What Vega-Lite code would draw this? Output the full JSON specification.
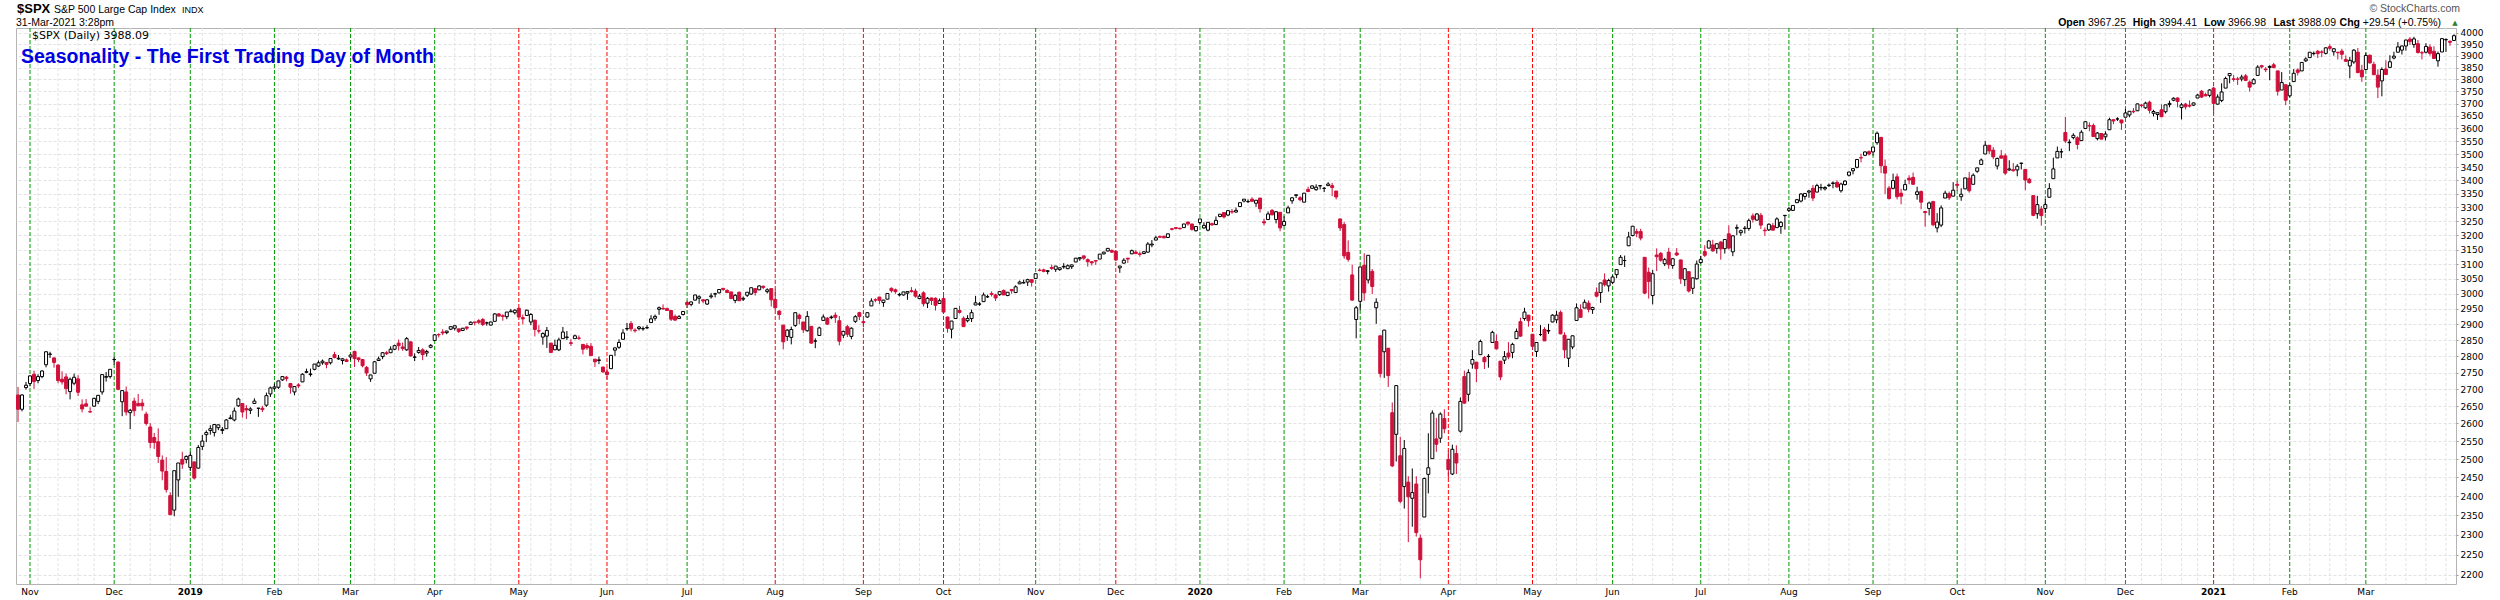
{
"$schema":"https://vega.github.io/schema/vega-lite/v6.json",
"width":2440,"height":556,
"autosize":{"type":"none"},
"padding":{"left":16,"top":28,"right":44,"bottom":16},
"background":"white",
"config":{"view":{"stroke":"#b4b4b4","strokeWidth":1},"font":"Liberation Sans"},
"datasets":{
"px":[
{"d":"2018-10-29","o":2683,"h":2707,"l":2604,"c":2641},
{"d":"2018-10-30","o":2641,"h":2685,"l":2635,"c":2683},
{"d":"2018-10-31","o":2705,"h":2722,"l":2699,"c":2712},
{"d":"2018-11-01","o":2717,"h":2742,"l":2709,"c":2740},
{"d":"2018-11-02","o":2745,"h":2756,"l":2701,"c":2723},
{"d":"2018-11-05","o":2726,"h":2745,"l":2718,"c":2738},
{"d":"2018-11-06","o":2738,"h":2757,"l":2733,"c":2755},
{"d":"2018-11-07","o":2774,"h":2815,"l":2766,"c":2814},
{"d":"2018-11-08","o":2806,"h":2814,"l":2795,"c":2807},
{"d":"2018-11-09","o":2795,"h":2796,"l":2765,"c":2781},
{"d":"2018-11-12","o":2773,"h":2775,"l":2718,"c":2726},
{"d":"2018-11-13","o":2730,"h":2754,"l":2714,"c":2722},
{"d":"2018-11-14","o":2737,"h":2747,"l":2685,"c":2702},
{"d":"2018-11-15","o":2693,"h":2735,"l":2670,"c":2730},
{"d":"2018-11-16","o":2718,"h":2747,"l":2712,"c":2736},
{"d":"2018-11-19","o":2731,"h":2742,"l":2680,"c":2691},
{"d":"2018-11-20","o":2654,"h":2670,"l":2632,"c":2642},
{"d":"2018-11-21","o":2657,"h":2671,"l":2649,"c":2650},
{"d":"2018-11-23","o":2634,"h":2647,"l":2631,"c":2633},
{"d":"2018-11-26","o":2650,"h":2675,"l":2649,"c":2673},
{"d":"2018-11-27","o":2664,"h":2683,"l":2656,"c":2682},
{"d":"2018-11-28","o":2692,"h":2744,"l":2684,"c":2744},
{"d":"2018-11-29","o":2736,"h":2752,"l":2723,"c":2738},
{"d":"2018-11-30","o":2738,"h":2760,"l":2732,"c":2760},
{"d":"2018-12-03","o":2790,"h":2800,"l":2774,"c":2790},
{"d":"2018-12-04","o":2782,"h":2785,"l":2697,"c":2700},
{"d":"2018-12-06","o":2663,"h":2697,"l":2621,"c":2696},
{"d":"2018-12-07","o":2692,"h":2708,"l":2623,"c":2633},
{"d":"2018-12-10","o":2631,"h":2642,"l":2584,"c":2638},
{"d":"2018-12-11","o":2665,"h":2675,"l":2621,"c":2637},
{"d":"2018-12-12","o":2658,"h":2686,"l":2650,"c":2651},
{"d":"2018-12-13","o":2659,"h":2671,"l":2637,"c":2651},
{"d":"2018-12-14","o":2627,"h":2634,"l":2594,"c":2600},
{"d":"2018-12-17","o":2590,"h":2601,"l":2530,"c":2546},
{"d":"2018-12-18","o":2560,"h":2573,"l":2528,"c":2546},
{"d":"2018-12-19","o":2548,"h":2586,"l":2489,"c":2507},
{"d":"2018-12-20","o":2497,"h":2510,"l":2442,"c":2467},
{"d":"2018-12-21","o":2466,"h":2505,"l":2409,"c":2417},
{"d":"2018-12-24","o":2401,"h":2410,"l":2351,"c":2351},
{"d":"2018-12-26","o":2363,"h":2468,"l":2347,"c":2468},
{"d":"2018-12-27","o":2443,"h":2489,"l":2398,"c":2489},
{"d":"2018-12-28","o":2499,"h":2520,"l":2473,"c":2486},
{"d":"2018-12-31","o":2499,"h":2510,"l":2488,"c":2507},
{"d":"2019-01-02","o":2477,"h":2520,"l":2467,"c":2510},
{"d":"2019-01-03","o":2492,"h":2493,"l":2444,"c":2448},
{"d":"2019-01-04","o":2475,"h":2539,"l":2474,"c":2532},
{"d":"2019-01-07","o":2535,"h":2567,"l":2525,"c":2550},
{"d":"2019-01-08","o":2568,"h":2580,"l":2547,"c":2574},
{"d":"2019-01-09","o":2580,"h":2595,"l":2568,"c":2585},
{"d":"2019-01-10","o":2574,"h":2597,"l":2563,"c":2597},
{"d":"2019-01-11","o":2588,"h":2597,"l":2581,"c":2596},
{"d":"2019-01-14","o":2580,"h":2590,"l":2570,"c":2583},
{"d":"2019-01-15","o":2585,"h":2613,"l":2585,"c":2610},
{"d":"2019-01-16","o":2614,"h":2625,"l":2612,"c":2616},
{"d":"2019-01-17","o":2610,"h":2646,"l":2606,"c":2636},
{"d":"2019-01-18","o":2651,"h":2675,"l":2648,"c":2671},
{"d":"2019-01-22","o":2658,"h":2659,"l":2617,"c":2633},
{"d":"2019-01-23","o":2643,"h":2653,"l":2613,"c":2639},
{"d":"2019-01-24","o":2638,"h":2647,"l":2627,"c":2642},
{"d":"2019-01-25","o":2658,"h":2673,"l":2658,"c":2665},
{"d":"2019-01-28","o":2644,"h":2645,"l":2619,"c":2644},
{"d":"2019-01-29","o":2644,"h":2651,"l":2633,"c":2640},
{"d":"2019-01-30","o":2653,"h":2690,"l":2648,"c":2681},
{"d":"2019-01-31","o":2686,"h":2708,"l":2677,"c":2704},
{"d":"2019-02-01","o":2703,"h":2717,"l":2697,"c":2707},
{"d":"2019-02-04","o":2706,"h":2725,"l":2701,"c":2725},
{"d":"2019-02-05","o":2728,"h":2739,"l":2725,"c":2738},
{"d":"2019-02-06","o":2736,"h":2740,"l":2724,"c":2732},
{"d":"2019-02-07","o":2717,"h":2719,"l":2687,"c":2706},
{"d":"2019-02-08","o":2692,"h":2709,"l":2682,"c":2708},
{"d":"2019-02-11","o":2713,"h":2718,"l":2704,"c":2710},
{"d":"2019-02-12","o":2722,"h":2748,"l":2722,"c":2745},
{"d":"2019-02-13","o":2751,"h":2762,"l":2748,"c":2753},
{"d":"2019-02-14","o":2744,"h":2762,"l":2738,"c":2746},
{"d":"2019-02-15","o":2760,"h":2776,"l":2757,"c":2776},
{"d":"2019-02-19","o":2770,"h":2787,"l":2767,"c":2780},
{"d":"2019-02-20","o":2780,"h":2790,"l":2774,"c":2785},
{"d":"2019-02-21","o":2781,"h":2782,"l":2763,"c":2775},
{"d":"2019-02-22","o":2780,"h":2794,"l":2775,"c":2793},
{"d":"2019-02-25","o":2805,"h":2814,"l":2794,"c":2796},
{"d":"2019-02-26","o":2792,"h":2804,"l":2789,"c":2794},
{"d":"2019-02-27","o":2787,"h":2795,"l":2775,"c":2792},
{"d":"2019-02-28","o":2789,"h":2793,"l":2782,"c":2784},
{"d":"2019-03-01","o":2798,"h":2808,"l":2788,"c":2804},
{"d":"2019-03-04","o":2815,"h":2817,"l":2767,"c":2793},
{"d":"2019-03-05","o":2795,"h":2796,"l":2782,"c":2790},
{"d":"2019-03-06","o":2790,"h":2791,"l":2766,"c":2771},
{"d":"2019-03-07","o":2766,"h":2770,"l":2740,"c":2749},
{"d":"2019-03-08","o":2731,"h":2743,"l":2722,"c":2743},
{"d":"2019-03-11","o":2748,"h":2785,"l":2748,"c":2783},
{"d":"2019-03-12","o":2787,"h":2799,"l":2786,"c":2792},
{"d":"2019-03-13","o":2799,"h":2813,"l":2791,"c":2811},
{"d":"2019-03-14","o":2811,"h":2816,"l":2804,"c":2808},
{"d":"2019-03-15","o":2811,"h":2831,"l":2810,"c":2822},
{"d":"2019-03-18","o":2822,"h":2836,"l":2819,"c":2833},
{"d":"2019-03-19","o":2841,"h":2852,"l":2818,"c":2833},
{"d":"2019-03-20","o":2829,"h":2843,"l":2817,"c":2824},
{"d":"2019-03-21","o":2820,"h":2860,"l":2817,"c":2855},
{"d":"2019-03-22","o":2845,"h":2846,"l":2800,"c":2801},
{"d":"2019-03-25","o":2797,"h":2809,"l":2785,"c":2798},
{"d":"2019-03-26","o":2812,"h":2829,"l":2808,"c":2818},
{"d":"2019-03-27","o":2820,"h":2825,"l":2788,"c":2805},
{"d":"2019-03-28","o":2810,"h":2820,"l":2799,"c":2815},
{"d":"2019-03-29","o":2828,"h":2838,"l":2825,"c":2834},
{"d":"2019-04-01","o":2849,"h":2869,"l":2849,"c":2867},
{"d":"2019-04-02","o":2868,"h":2872,"l":2859,"c":2867},
{"d":"2019-04-03","o":2876,"h":2885,"l":2866,"c":2873},
{"d":"2019-04-04","o":2874,"h":2880,"l":2869,"c":2879},
{"d":"2019-04-05","o":2885,"h":2893,"l":2882,"c":2893},
{"d":"2019-04-08","o":2888,"h":2896,"l":2881,"c":2896},
{"d":"2019-04-09","o":2886,"h":2886,"l":2873,"c":2878},
{"d":"2019-04-10","o":2881,"h":2889,"l":2879,"c":2888},
{"d":"2019-04-11","o":2892,"h":2893,"l":2882,"c":2888},
{"d":"2019-04-12","o":2900,"h":2910,"l":2899,"c":2907},
{"d":"2019-04-15","o":2908,"h":2909,"l":2897,"c":2906},
{"d":"2019-04-16","o":2912,"h":2917,"l":2901,"c":2907},
{"d":"2019-04-17","o":2916,"h":2921,"l":2895,"c":2900},
{"d":"2019-04-18","o":2905,"h":2909,"l":2896,"c":2905},
{"d":"2019-04-22","o":2898,"h":2909,"l":2897,"c":2908},
{"d":"2019-04-23","o":2910,"h":2936,"l":2909,"c":2934},
{"d":"2019-04-24","o":2934,"h":2936,"l":2926,"c":2927},
{"d":"2019-04-25","o":2928,"h":2933,"l":2912,"c":2926},
{"d":"2019-04-26","o":2925,"h":2940,"l":2917,"c":2940},
{"d":"2019-04-29","o":2941,"h":2950,"l":2940,"c":2943},
{"d":"2019-04-30","o":2938,"h":2949,"l":2932,"c":2946},
{"d":"2019-05-01","o":2952,"h":2955,"l":2923,"c":2924},
{"d":"2019-05-02","o":2922,"h":2932,"l":2900,"c":2918},
{"d":"2019-05-03","o":2929,"h":2948,"l":2929,"c":2946},
{"d":"2019-05-06","o":2908,"h":2937,"l":2898,"c":2932},
{"d":"2019-05-07","o":2914,"h":2914,"l":2862,"c":2884},
{"d":"2019-05-08","o":2880,"h":2898,"l":2871,"c":2879},
{"d":"2019-05-09","o":2860,"h":2875,"l":2836,"c":2871},
{"d":"2019-05-10","o":2863,"h":2892,"l":2826,"c":2881},
{"d":"2019-05-13","o":2841,"h":2841,"l":2811,"c":2812},
{"d":"2019-05-14","o":2820,"h":2852,"l":2820,"c":2834},
{"d":"2019-05-15","o":2820,"h":2858,"l":2816,"c":2851},
{"d":"2019-05-16","o":2855,"h":2892,"l":2855,"c":2876},
{"d":"2019-05-17","o":2859,"h":2879,"l":2851,"c":2860},
{"d":"2019-05-20","o":2842,"h":2853,"l":2832,"c":2840},
{"d":"2019-05-21","o":2855,"h":2868,"l":2855,"c":2864},
{"d":"2019-05-22","o":2857,"h":2865,"l":2851,"c":2856},
{"d":"2019-05-23","o":2837,"h":2837,"l":2806,"c":2822},
{"d":"2019-05-24","o":2833,"h":2841,"l":2820,"c":2826},
{"d":"2019-05-28","o":2831,"h":2841,"l":2801,"c":2802},
{"d":"2019-05-29","o":2791,"h":2792,"l":2767,"c":2783},
{"d":"2019-05-30","o":2787,"h":2799,"l":2776,"c":2789},
{"d":"2019-05-31","o":2767,"h":2768,"l":2750,"c":2752},
{"d":"2019-06-03","o":2752,"h":2763,"l":2729,"c":2744},
{"d":"2019-06-04","o":2762,"h":2804,"l":2762,"c":2803},
{"d":"2019-06-05","o":2819,"h":2827,"l":2801,"c":2826},
{"d":"2019-06-06","o":2828,"h":2853,"l":2823,"c":2843},
{"d":"2019-06-07","o":2853,"h":2885,"l":2853,"c":2873},
{"d":"2019-06-10","o":2886,"h":2905,"l":2880,"c":2887},
{"d":"2019-06-11","o":2903,"h":2911,"l":2878,"c":2886},
{"d":"2019-06-12","o":2882,"h":2888,"l":2874,"c":2880},
{"d":"2019-06-13","o":2887,"h":2895,"l":2881,"c":2892},
{"d":"2019-06-14","o":2886,"h":2894,"l":2880,"c":2887},
{"d":"2019-06-17","o":2889,"h":2898,"l":2886,"c":2890},
{"d":"2019-06-18","o":2906,"h":2930,"l":2906,"c":2918},
{"d":"2019-06-19","o":2920,"h":2932,"l":2912,"c":2926},
{"d":"2019-06-20","o":2949,"h":2958,"l":2931,"c":2954},
{"d":"2019-06-21","o":2952,"h":2965,"l":2948,"c":2950},
{"d":"2019-06-24","o":2951,"h":2955,"l":2944,"c":2945},
{"d":"2019-06-25","o":2945,"h":2947,"l":2911,"c":2917},
{"d":"2019-06-26","o":2926,"h":2932,"l":2912,"c":2914},
{"d":"2019-06-27","o":2919,"h":2930,"l":2918,"c":2925},
{"d":"2019-06-28","o":2932,"h":2943,"l":2929,"c":2942},
{"d":"2019-07-01","o":2971,"h":2977,"l":2953,"c":2964},
{"d":"2019-07-02","o":2965,"h":2974,"l":2959,"c":2973},
{"d":"2019-07-03","o":2979,"h":2996,"l":2978,"c":2996},
{"d":"2019-07-05","o":2985,"h":2995,"l":2967,"c":2990},
{"d":"2019-07-08","o":2980,"h":2981,"l":2969,"c":2976},
{"d":"2019-07-09","o":2966,"h":2981,"l":2963,"c":2980},
{"d":"2019-07-10","o":2990,"h":3002,"l":2984,"c":2993},
{"d":"2019-07-11","o":2999,"h":3003,"l":2988,"c":3000},
{"d":"2019-07-12","o":3003,"h":3014,"l":3001,"c":3014},
{"d":"2019-07-15","o":3018,"h":3018,"l":3010,"c":3014},
{"d":"2019-07-16","o":3011,"h":3015,"l":3002,"c":3004},
{"d":"2019-07-17","o":3006,"h":3006,"l":2984,"c":2984},
{"d":"2019-07-18","o":2978,"h":2999,"l":2969,"c":2995},
{"d":"2019-07-19","o":3005,"h":3007,"l":2976,"c":2977},
{"d":"2019-07-22","o":2982,"h":2991,"l":2976,"c":2985},
{"d":"2019-07-23","o":2995,"h":3005,"l":2989,"c":3005},
{"d":"2019-07-24","o":2999,"h":3020,"l":2996,"c":3020},
{"d":"2019-07-25","o":3017,"h":3017,"l":2994,"c":3004},
{"d":"2019-07-26","o":3013,"h":3028,"l":3012,"c":3026},
{"d":"2019-07-29","o":3025,"h":3027,"l":3015,"c":3021},
{"d":"2019-07-30","o":3007,"h":3018,"l":3001,"c":3013},
{"d":"2019-07-31","o":3017,"h":3017,"l":2958,"c":2980},
{"d":"2019-08-01","o":2981,"h":3014,"l":2946,"c":2954},
{"d":"2019-08-02","o":2943,"h":2946,"l":2915,"c":2932},
{"d":"2019-08-05","o":2898,"h":2898,"l":2822,"c":2845},
{"d":"2019-08-06","o":2862,"h":2885,"l":2848,"c":2882},
{"d":"2019-08-07","o":2859,"h":2893,"l":2837,"c":2884},
{"d":"2019-08-08","o":2897,"h":2938,"l":2892,"c":2938},
{"d":"2019-08-09","o":2930,"h":2935,"l":2901,"c":2919},
{"d":"2019-08-12","o":2908,"h":2908,"l":2873,"c":2883},
{"d":"2019-08-13","o":2880,"h":2943,"l":2877,"c":2926},
{"d":"2019-08-14","o":2894,"h":2894,"l":2839,"c":2841},
{"d":"2019-08-15","o":2847,"h":2856,"l":2825,"c":2848},
{"d":"2019-08-16","o":2865,"h":2893,"l":2865,"c":2889},
{"d":"2019-08-19","o":2913,"h":2932,"l":2913,"c":2924},
{"d":"2019-08-20","o":2920,"h":2924,"l":2899,"c":2901},
{"d":"2019-08-21","o":2922,"h":2929,"l":2917,"c":2924},
{"d":"2019-08-22","o":2930,"h":2939,"l":2905,"c":2923},
{"d":"2019-08-23","o":2912,"h":2927,"l":2834,"c":2847},
{"d":"2019-08-26","o":2866,"h":2880,"l":2857,"c":2878},
{"d":"2019-08-27","o":2893,"h":2899,"l":2860,"c":2869},
{"d":"2019-08-28","o":2862,"h":2891,"l":2853,"c":2888},
{"d":"2019-08-29","o":2910,"h":2930,"l":2905,"c":2925},
{"d":"2019-08-30","o":2938,"h":2941,"l":2914,"c":2926},
{"d":"2019-09-03","o":2909,"h":2915,"l":2891,"c":2906},
{"d":"2019-09-04","o":2924,"h":2939,"l":2921,"c":2938},
{"d":"2019-09-05","o":2960,"h":2985,"l":2960,"c":2976},
{"d":"2019-09-06","o":2980,"h":2985,"l":2972,"c":2979},
{"d":"2019-09-09","o":2989,"h":2990,"l":2966,"c":2978},
{"d":"2019-09-10","o":2971,"h":2980,"l":2957,"c":2979},
{"d":"2019-09-11","o":2982,"h":3001,"l":2982,"c":3001},
{"d":"2019-09-12","o":3018,"h":3021,"l":3004,"c":3010},
{"d":"2019-09-13","o":3013,"h":3017,"l":3000,"c":3007},
{"d":"2019-09-16","o":2996,"h":3003,"l":2991,"c":2998},
{"d":"2019-09-17","o":2996,"h":3006,"l":2994,"c":3006},
{"d":"2019-09-18","o":3002,"h":3008,"l":2980,"c":3007},
{"d":"2019-09-19","o":3010,"h":3022,"l":3004,"c":3007},
{"d":"2019-09-20","o":3009,"h":3017,"l":2987,"c":2992},
{"d":"2019-09-23","o":2984,"h":2999,"l":2982,"c":2992},
{"d":"2019-09-24","o":3003,"h":3008,"l":2958,"c":2967},
{"d":"2019-09-25","o":2969,"h":2989,"l":2953,"c":2985},
{"d":"2019-09-26","o":2986,"h":2987,"l":2963,"c":2978},
{"d":"2019-09-27","o":2985,"h":2988,"l":2945,"c":2962},
{"d":"2019-09-30","o":2968,"h":2984,"l":2968,"c":2977},
{"d":"2019-10-01","o":2984,"h":2993,"l":2938,"c":2940},
{"d":"2019-10-02","o":2924,"h":2925,"l":2874,"c":2888},
{"d":"2019-10-03","o":2885,"h":2911,"l":2856,"c":2911},
{"d":"2019-10-04","o":2919,"h":2953,"l":2918,"c":2952},
{"d":"2019-10-07","o":2945,"h":2960,"l":2935,"c":2939},
{"d":"2019-10-08","o":2920,"h":2926,"l":2893,"c":2893},
{"d":"2019-10-09","o":2912,"h":2930,"l":2907,"c":2919},
{"d":"2019-10-10","o":2919,"h":2948,"l":2908,"c":2938},
{"d":"2019-10-11","o":2963,"h":2993,"l":2963,"c":2970},
{"d":"2019-10-14","o":2966,"h":2973,"l":2960,"c":2966},
{"d":"2019-10-15","o":2974,"h":3004,"l":2974,"c":2996},
{"d":"2019-10-16","o":2990,"h":2997,"l":2986,"c":2990},
{"d":"2019-10-17","o":3001,"h":3008,"l":2991,"c":2998},
{"d":"2019-10-18","o":2996,"h":3000,"l":2976,"c":2986},
{"d":"2019-10-21","o":2997,"h":3008,"l":2993,"c":3007},
{"d":"2019-10-22","o":3011,"h":3014,"l":2996,"c":2996},
{"d":"2019-10-23","o":2994,"h":3005,"l":2992,"c":3005},
{"d":"2019-10-24","o":3014,"h":3016,"l":3000,"c":3010},
{"d":"2019-10-25","o":3004,"h":3028,"l":3002,"c":3023},
{"d":"2019-10-28","o":3033,"h":3044,"l":3032,"c":3039},
{"d":"2019-10-29","o":3036,"h":3047,"l":3034,"c":3037},
{"d":"2019-10-30","o":3039,"h":3050,"l":3026,"c":3047},
{"d":"2019-10-31","o":3047,"h":3048,"l":3024,"c":3038},
{"d":"2019-11-01","o":3051,"h":3067,"l":3051,"c":3067},
{"d":"2019-11-04","o":3079,"h":3085,"l":3075,"c":3078},
{"d":"2019-11-05","o":3080,"h":3084,"l":3072,"c":3075},
{"d":"2019-11-06","o":3075,"h":3079,"l":3065,"c":3077},
{"d":"2019-11-07","o":3088,"h":3098,"l":3080,"c":3085},
{"d":"2019-11-08","o":3082,"h":3093,"l":3073,"c":3093},
{"d":"2019-11-11","o":3081,"h":3088,"l":3077,"c":3087},
{"d":"2019-11-12","o":3090,"h":3103,"l":3084,"c":3092},
{"d":"2019-11-13","o":3084,"h":3099,"l":3083,"c":3094},
{"d":"2019-11-14","o":3091,"h":3098,"l":3083,"c":3097},
{"d":"2019-11-15","o":3107,"h":3121,"l":3106,"c":3120},
{"d":"2019-11-18","o":3118,"h":3124,"l":3111,"c":3122},
{"d":"2019-11-19","o":3128,"h":3128,"l":3114,"c":3120},
{"d":"2019-11-20","o":3115,"h":3119,"l":3091,"c":3108},
{"d":"2019-11-21","o":3108,"h":3110,"l":3095,"c":3104},
{"d":"2019-11-22","o":3112,"h":3112,"l":3097,"c":3110},
{"d":"2019-11-25","o":3117,"h":3134,"l":3117,"c":3134},
{"d":"2019-11-26","o":3135,"h":3142,"l":3133,"c":3141},
{"d":"2019-11-27","o":3145,"h":3155,"l":3143,"c":3154},
{"d":"2019-11-29","o":3147,"h":3150,"l":3138,"c":3141},
{"d":"2019-12-02","o":3144,"h":3145,"l":3110,"c":3114},
{"d":"2019-12-03","o":3087,"h":3094,"l":3070,"c":3093},
{"d":"2019-12-04","o":3103,"h":3120,"l":3102,"c":3113},
{"d":"2019-12-05","o":3120,"h":3120,"l":3104,"c":3117},
{"d":"2019-12-06","o":3135,"h":3150,"l":3134,"c":3146},
{"d":"2019-12-09","o":3141,"h":3148,"l":3135,"c":3136},
{"d":"2019-12-10","o":3135,"h":3143,"l":3125,"c":3133},
{"d":"2019-12-11","o":3136,"h":3144,"l":3134,"c":3142},
{"d":"2019-12-12","o":3141,"h":3176,"l":3139,"c":3169},
{"d":"2019-12-13","o":3166,"h":3183,"l":3158,"c":3169},
{"d":"2019-12-16","o":3183,"h":3198,"l":3182,"c":3191},
{"d":"2019-12-17","o":3196,"h":3198,"l":3191,"c":3193},
{"d":"2019-12-18","o":3196,"h":3199,"l":3189,"c":3191},
{"d":"2019-12-19","o":3192,"h":3206,"l":3192,"c":3205},
{"d":"2019-12-20","o":3223,"h":3226,"l":3217,"c":3221},
{"d":"2019-12-23","o":3227,"h":3228,"l":3221,"c":3224},
{"d":"2019-12-24","o":3225,"h":3226,"l":3220,"c":3223},
{"d":"2019-12-26","o":3227,"h":3240,"l":3227,"c":3240},
{"d":"2019-12-27","o":3247,"h":3248,"l":3234,"c":3240},
{"d":"2019-12-30","o":3240,"h":3240,"l":3216,"c":3221},
{"d":"2019-12-31","o":3216,"h":3231,"l":3213,"c":3231},
{"d":"2020-01-02","o":3245,"h":3258,"l":3235,"c":3258},
{"d":"2020-01-03","o":3226,"h":3246,"l":3223,"c":3235},
{"d":"2020-01-06","o":3218,"h":3247,"l":3214,"c":3246},
{"d":"2020-01-07","o":3241,"h":3245,"l":3233,"c":3237},
{"d":"2020-01-08","o":3238,"h":3267,"l":3236,"c":3253},
{"d":"2020-01-09","o":3267,"h":3275,"l":3264,"c":3275},
{"d":"2020-01-10","o":3281,"h":3282,"l":3260,"c":3265},
{"d":"2020-01-13","o":3272,"h":3288,"l":3268,"c":3288},
{"d":"2020-01-14","o":3285,"h":3294,"l":3277,"c":3283},
{"d":"2020-01-15","o":3283,"h":3299,"l":3281,"c":3289},
{"d":"2020-01-16","o":3303,"h":3317,"l":3302,"c":3317},
{"d":"2020-01-17","o":3323,"h":3330,"l":3318,"c":3330},
{"d":"2020-01-21","o":3321,"h":3329,"l":3316,"c":3321},
{"d":"2020-01-22","o":3330,"h":3337,"l":3320,"c":3322},
{"d":"2020-01-23","o":3315,"h":3326,"l":3302,"c":3326},
{"d":"2020-01-24","o":3334,"h":3334,"l":3281,"c":3295},
{"d":"2020-01-27","o":3248,"h":3259,"l":3235,"c":3244},
{"d":"2020-01-28","o":3256,"h":3285,"l":3256,"c":3276},
{"d":"2020-01-29","o":3289,"h":3294,"l":3271,"c":3273},
{"d":"2020-01-30","o":3256,"h":3286,"l":3242,"c":3284},
{"d":"2020-01-31","o":3282,"h":3282,"l":3214,"c":3226},
{"d":"2020-02-03","o":3235,"h":3268,"l":3235,"c":3249},
{"d":"2020-02-04","o":3280,"h":3306,"l":3280,"c":3298},
{"d":"2020-02-05","o":3324,"h":3337,"l":3313,"c":3335},
{"d":"2020-02-06","o":3344,"h":3347,"l":3334,"c":3346},
{"d":"2020-02-07","o":3335,"h":3341,"l":3322,"c":3328},
{"d":"2020-02-10","o":3319,"h":3353,"l":3318,"c":3352},
{"d":"2020-02-11","o":3366,"h":3376,"l":3356,"c":3358},
{"d":"2020-02-12","o":3370,"h":3381,"l":3369,"c":3379},
{"d":"2020-02-13","o":3365,"h":3385,"l":3361,"c":3374},
{"d":"2020-02-14","o":3379,"h":3381,"l":3366,"c":3380},
{"d":"2020-02-18","o":3370,"h":3375,"l":3356,"c":3370},
{"d":"2020-02-19","o":3380,"h":3393,"l":3379,"c":3386},
{"d":"2020-02-20","o":3380,"h":3390,"l":3341,"c":3373},
{"d":"2020-02-21","o":3360,"h":3360,"l":3329,"c":3338},
{"d":"2020-02-24","o":3258,"h":3259,"l":3215,"c":3226},
{"d":"2020-02-25","o":3238,"h":3247,"l":3118,"c":3128},
{"d":"2020-02-26","o":3140,"h":3182,"l":3108,"c":3116},
{"d":"2020-02-27","o":3063,"h":3098,"l":2977,"c":2979},
{"d":"2020-02-28","o":2916,"h":2960,"l":2856,"c":2954},
{"d":"2020-03-02","o":2975,"h":3091,"l":2946,"c":3090},
{"d":"2020-03-03","o":3096,"h":3137,"l":2977,"c":3003},
{"d":"2020-03-04","o":3046,"h":3131,"l":3034,"c":3130},
{"d":"2020-03-05","o":3075,"h":3083,"l":2999,"c":3024},
{"d":"2020-03-06","o":2954,"h":2985,"l":2902,"c":2972},
{"d":"2020-03-09","o":2864,"h":2864,"l":2735,"c":2747},
{"d":"2020-03-10","o":2814,"h":2883,"l":2734,"c":2882},
{"d":"2020-03-11","o":2825,"h":2825,"l":2707,"c":2741},
{"d":"2020-03-12","o":2631,"h":2661,"l":2478,"c":2481},
{"d":"2020-03-13","o":2569,"h":2711,"l":2493,"c":2711},
{"d":"2020-03-16","o":2509,"h":2562,"l":2381,"c":2386},
{"d":"2020-03-17","o":2425,"h":2553,"l":2367,"c":2529},
{"d":"2020-03-18","o":2437,"h":2453,"l":2281,"c":2398},
{"d":"2020-03-19","o":2394,"h":2474,"l":2320,"c":2409},
{"d":"2020-03-20","o":2432,"h":2453,"l":2295,"c":2305},
{"d":"2020-03-23","o":2291,"h":2300,"l":2192,"c":2237},
{"d":"2020-03-24","o":2345,"h":2449,"l":2345,"c":2447},
{"d":"2020-03-25","o":2458,"h":2572,"l":2407,"c":2476},
{"d":"2020-03-26","o":2501,"h":2638,"l":2500,"c":2630},
{"d":"2020-03-27","o":2556,"h":2616,"l":2520,"c":2541},
{"d":"2020-03-30","o":2558,"h":2632,"l":2545,"c":2627},
{"d":"2020-03-31","o":2614,"h":2641,"l":2572,"c":2585},
{"d":"2020-04-01","o":2499,"h":2523,"l":2447,"c":2471},
{"d":"2020-04-02","o":2459,"h":2540,"l":2456,"c":2527},
{"d":"2020-04-03","o":2515,"h":2538,"l":2459,"c":2489},
{"d":"2020-04-06","o":2578,"h":2676,"l":2574,"c":2664},
{"d":"2020-04-07","o":2738,"h":2756,"l":2657,"c":2659},
{"d":"2020-04-08","o":2685,"h":2760,"l":2664,"c":2750},
{"d":"2020-04-09","o":2776,"h":2819,"l":2762,"c":2790},
{"d":"2020-04-13","o":2782,"h":2782,"l":2721,"c":2762},
{"d":"2020-04-14","o":2805,"h":2852,"l":2805,"c":2846},
{"d":"2020-04-15","o":2796,"h":2801,"l":2761,"c":2783},
{"d":"2020-04-16","o":2799,"h":2807,"l":2765,"c":2800},
{"d":"2020-04-17","o":2843,"h":2880,"l":2842,"c":2875},
{"d":"2020-04-20","o":2846,"h":2868,"l":2821,"c":2823},
{"d":"2020-04-21","o":2785,"h":2785,"l":2727,"c":2737},
{"d":"2020-04-22","o":2788,"h":2816,"l":2776,"c":2799},
{"d":"2020-04-23","o":2810,"h":2844,"l":2791,"c":2798},
{"d":"2020-04-24","o":2812,"h":2842,"l":2794,"c":2837},
{"d":"2020-04-27","o":2855,"h":2887,"l":2855,"c":2878},
{"d":"2020-04-28","o":2909,"h":2922,"l":2861,"c":2863},
{"d":"2020-04-29","o":2919,"h":2954,"l":2912,"c":2940},
{"d":"2020-04-30","o":2930,"h":2930,"l":2893,"c":2912},
{"d":"2020-05-01","o":2869,"h":2869,"l":2822,"c":2831},
{"d":"2020-05-04","o":2815,"h":2844,"l":2798,"c":2843},
{"d":"2020-05-05","o":2868,"h":2898,"l":2863,"c":2868},
{"d":"2020-05-06","o":2884,"h":2891,"l":2848,"c":2848},
{"d":"2020-05-07","o":2879,"h":2902,"l":2870,"c":2881},
{"d":"2020-05-08","o":2908,"h":2933,"l":2907,"c":2930},
{"d":"2020-05-11","o":2915,"h":2944,"l":2904,"c":2930},
{"d":"2020-05-12","o":2939,"h":2945,"l":2869,"c":2870},
{"d":"2020-05-13","o":2866,"h":2875,"l":2794,"c":2820},
{"d":"2020-05-14","o":2794,"h":2852,"l":2767,"c":2853},
{"d":"2020-05-15","o":2829,"h":2865,"l":2822,"c":2864},
{"d":"2020-05-18","o":2913,"h":2968,"l":2913,"c":2954},
{"d":"2020-05-19","o":2948,"h":2965,"l":2922,"c":2923},
{"d":"2020-05-20","o":2953,"h":2981,"l":2953,"c":2972},
{"d":"2020-05-21","o":2969,"h":2978,"l":2939,"c":2949},
{"d":"2020-05-22","o":2948,"h":2957,"l":2934,"c":2955},
{"d":"2020-05-26","o":3005,"h":3021,"l":2988,"c":2992},
{"d":"2020-05-27","o":3004,"h":3036,"l":2970,"c":3036},
{"d":"2020-05-28","o":3046,"h":3068,"l":3024,"c":3030},
{"d":"2020-05-29","o":3026,"h":3050,"l":3007,"c":3044},
{"d":"2020-06-01","o":3038,"h":3062,"l":3032,"c":3056},
{"d":"2020-06-02","o":3064,"h":3081,"l":3052,"c":3081},
{"d":"2020-06-03","o":3098,"h":3131,"l":3098,"c":3123},
{"d":"2020-06-04","o":3112,"h":3129,"l":3090,"c":3112},
{"d":"2020-06-05","o":3163,"h":3212,"l":3163,"c":3194},
{"d":"2020-06-08","o":3199,"h":3233,"l":3196,"c":3232},
{"d":"2020-06-09","o":3213,"h":3223,"l":3193,"c":3207},
{"d":"2020-06-10","o":3213,"h":3223,"l":3182,"c":3190},
{"d":"2020-06-11","o":3123,"h":3124,"l":2999,"c":3002},
{"d":"2020-06-12","o":3072,"h":3088,"l":2984,"c":3041},
{"d":"2020-06-15","o":2994,"h":3080,"l":2965,"c":3067},
{"d":"2020-06-16","o":3131,"h":3154,"l":3076,"c":3125},
{"d":"2020-06-17","o":3137,"h":3141,"l":3108,"c":3113},
{"d":"2020-06-18","o":3101,"h":3121,"l":3093,"c":3115},
{"d":"2020-06-19","o":3141,"h":3156,"l":3084,"c":3098},
{"d":"2020-06-22","o":3095,"h":3121,"l":3084,"c":3118},
{"d":"2020-06-23","o":3138,"h":3155,"l":3127,"c":3131},
{"d":"2020-06-24","o":3114,"h":3115,"l":3033,"c":3050},
{"d":"2020-06-25","o":3047,"h":3086,"l":3025,"c":3084},
{"d":"2020-06-26","o":3074,"h":3074,"l":3004,"c":3009},
{"d":"2020-06-29","o":3018,"h":3054,"l":2999,"c":3053},
{"d":"2020-06-30","o":3050,"h":3112,"l":3047,"c":3100},
{"d":"2020-07-01","o":3105,"h":3128,"l":3101,"c":3116},
{"d":"2020-07-02","o":3143,"h":3165,"l":3124,"c":3130},
{"d":"2020-07-06","o":3155,"h":3183,"l":3155,"c":3180},
{"d":"2020-07-07","o":3166,"h":3184,"l":3143,"c":3145},
{"d":"2020-07-08","o":3154,"h":3172,"l":3136,"c":3170},
{"d":"2020-07-09","o":3176,"h":3180,"l":3115,"c":3152},
{"d":"2020-07-10","o":3153,"h":3186,"l":3136,"c":3185},
{"d":"2020-07-13","o":3205,"h":3235,"l":3150,"c":3155},
{"d":"2020-07-14","o":3142,"h":3200,"l":3127,"c":3198},
{"d":"2020-07-15","o":3225,"h":3238,"l":3200,"c":3227},
{"d":"2020-07-16","o":3209,"h":3220,"l":3198,"c":3216},
{"d":"2020-07-17","o":3224,"h":3233,"l":3206,"c":3225},
{"d":"2020-07-20","o":3224,"h":3259,"l":3216,"c":3252},
{"d":"2020-07-21","o":3269,"h":3278,"l":3245,"c":3257},
{"d":"2020-07-22","o":3254,"h":3279,"l":3252,"c":3276},
{"d":"2020-07-23","o":3271,"h":3280,"l":3222,"c":3236},
{"d":"2020-07-24","o":3218,"h":3228,"l":3198,"c":3216},
{"d":"2020-07-27","o":3219,"h":3242,"l":3215,"c":3239},
{"d":"2020-07-28","o":3234,"h":3244,"l":3217,"c":3218},
{"d":"2020-07-29","o":3227,"h":3264,"l":3227,"c":3258},
{"d":"2020-07-30","o":3231,"h":3250,"l":3205,"c":3246},
{"d":"2020-07-31","o":3270,"h":3272,"l":3220,"c":3271},
{"d":"2020-08-03","o":3289,"h":3302,"l":3284,"c":3295},
{"d":"2020-08-04","o":3289,"h":3307,"l":3287,"c":3307},
{"d":"2020-08-05","o":3317,"h":3331,"l":3317,"c":3328},
{"d":"2020-08-06","o":3323,"h":3352,"l":3318,"c":3349},
{"d":"2020-08-07","o":3340,"h":3352,"l":3328,"c":3351},
{"d":"2020-08-10","o":3356,"h":3364,"l":3335,"c":3360},
{"d":"2020-08-11","o":3370,"h":3382,"l":3323,"c":3334},
{"d":"2020-08-12","o":3356,"h":3387,"l":3356,"c":3380},
{"d":"2020-08-13","o":3372,"h":3387,"l":3362,"c":3373},
{"d":"2020-08-14","o":3368,"h":3378,"l":3362,"c":3373},
{"d":"2020-08-17","o":3380,"h":3388,"l":3375,"c":3382},
{"d":"2020-08-18","o":3388,"h":3396,"l":3370,"c":3390},
{"d":"2020-08-19","o":3392,"h":3400,"l":3372,"c":3375},
{"d":"2020-08-20","o":3361,"h":3391,"l":3354,"c":3386},
{"d":"2020-08-21","o":3384,"h":3400,"l":3380,"c":3397},
{"d":"2020-08-24","o":3419,"h":3433,"l":3414,"c":3431},
{"d":"2020-08-25","o":3436,"h":3444,"l":3422,"c":3444},
{"d":"2020-08-26","o":3449,"h":3480,"l":3445,"c":3479},
{"d":"2020-08-27","o":3486,"h":3501,"l":3468,"c":3485},
{"d":"2020-08-28","o":3495,"h":3510,"l":3492,"c":3508},
{"d":"2020-08-31","o":3509,"h":3514,"l":3494,"c":3500},
{"d":"2020-09-01","o":3508,"h":3529,"l":3494,"c":3527},
{"d":"2020-09-02","o":3544,"h":3588,"l":3536,"c":3581},
{"d":"2020-09-03","o":3565,"h":3565,"l":3427,"c":3455},
{"d":"2020-09-04","o":3453,"h":3479,"l":3349,"c":3427},
{"d":"2020-09-08","o":3371,"h":3379,"l":3329,"c":3332},
{"d":"2020-09-09","o":3370,"h":3425,"l":3366,"c":3399},
{"d":"2020-09-10","o":3413,"h":3425,"l":3329,"c":3339},
{"d":"2020-09-11","o":3352,"h":3368,"l":3311,"c":3341},
{"d":"2020-09-14","o":3364,"h":3402,"l":3364,"c":3384},
{"d":"2020-09-15","o":3408,"h":3419,"l":3385,"c":3401},
{"d":"2020-09-16","o":3411,"h":3429,"l":3384,"c":3385},
{"d":"2020-09-17","o":3347,"h":3376,"l":3328,"c":3357},
{"d":"2020-09-18","o":3358,"h":3362,"l":3293,"c":3319},
{"d":"2020-09-21","o":3285,"h":3285,"l":3230,"c":3281},
{"d":"2020-09-22","o":3296,"h":3321,"l":3271,"c":3316},
{"d":"2020-09-23","o":3321,"h":3324,"l":3232,"c":3237},
{"d":"2020-09-24","o":3226,"h":3279,"l":3210,"c":3247},
{"d":"2020-09-25","o":3236,"h":3307,"l":3229,"c":3298},
{"d":"2020-09-28","o":3334,"h":3361,"l":3334,"c":3352},
{"d":"2020-09-29","o":3350,"h":3358,"l":3327,"c":3335},
{"d":"2020-09-30","o":3341,"h":3393,"l":3341,"c":3363},
{"d":"2020-10-01","o":3385,"h":3398,"l":3361,"c":3381},
{"d":"2020-10-02","o":3339,"h":3370,"l":3324,"c":3348},
{"d":"2020-10-05","o":3368,"h":3410,"l":3367,"c":3409},
{"d":"2020-10-06","o":3408,"h":3431,"l":3354,"c":3361},
{"d":"2020-10-07","o":3385,"h":3426,"l":3385,"c":3419},
{"d":"2020-10-08","o":3434,"h":3447,"l":3428,"c":3447},
{"d":"2020-10-09","o":3460,"h":3483,"l":3460,"c":3477},
{"d":"2020-10-12","o":3500,"h":3550,"l":3500,"c":3534},
{"d":"2020-10-13","o":3534,"h":3534,"l":3500,"c":3512},
{"d":"2020-10-14","o":3515,"h":3527,"l":3480,"c":3489},
{"d":"2020-10-15","o":3454,"h":3486,"l":3441,"c":3483},
{"d":"2020-10-16","o":3493,"h":3516,"l":3483,"c":3484},
{"d":"2020-10-19","o":3493,"h":3502,"l":3420,"c":3427},
{"d":"2020-10-20","o":3439,"h":3476,"l":3435,"c":3443},
{"d":"2020-10-21","o":3440,"h":3465,"l":3433,"c":3436},
{"d":"2020-10-22","o":3439,"h":3461,"l":3415,"c":3453},
{"d":"2020-10-23","o":3464,"h":3466,"l":3441,"c":3465},
{"d":"2020-10-26","o":3441,"h":3442,"l":3363,"c":3401},
{"d":"2020-10-27","o":3404,"h":3409,"l":3388,"c":3391},
{"d":"2020-10-28","o":3343,"h":3343,"l":3268,"c":3271},
{"d":"2020-10-29","o":3277,"h":3342,"l":3259,"c":3310},
{"d":"2020-10-30","o":3294,"h":3305,"l":3234,"c":3270},
{"d":"2020-11-02","o":3296,"h":3330,"l":3279,"c":3310},
{"d":"2020-11-03","o":3337,"h":3389,"l":3337,"c":3369},
{"d":"2020-11-04","o":3406,"h":3486,"l":3406,"c":3443},
{"d":"2020-11-05","o":3485,"h":3529,"l":3485,"c":3510},
{"d":"2020-11-06","o":3508,"h":3521,"l":3484,"c":3509},
{"d":"2020-11-09","o":3584,"h":3646,"l":3543,"c":3551},
{"d":"2020-11-10","o":3544,"h":3557,"l":3511,"c":3546},
{"d":"2020-11-11","o":3564,"h":3581,"l":3557,"c":3573},
{"d":"2020-11-12","o":3563,"h":3569,"l":3518,"c":3537},
{"d":"2020-11-13","o":3552,"h":3593,"l":3552,"c":3585},
{"d":"2020-11-16","o":3600,"h":3629,"l":3600,"c":3627},
{"d":"2020-11-17","o":3611,"h":3624,"l":3589,"c":3610},
{"d":"2020-11-18","o":3612,"h":3620,"l":3568,"c":3568},
{"d":"2020-11-19","o":3560,"h":3586,"l":3553,"c":3582},
{"d":"2020-11-20","o":3580,"h":3582,"l":3557,"c":3558},
{"d":"2020-11-23","o":3567,"h":3589,"l":3553,"c":3578},
{"d":"2020-11-24","o":3595,"h":3643,"l":3595,"c":3635},
{"d":"2020-11-25","o":3635,"h":3636,"l":3617,"c":3630},
{"d":"2020-11-27","o":3638,"h":3645,"l":3630,"c":3638},
{"d":"2020-11-30","o":3634,"h":3635,"l":3594,"c":3622},
{"d":"2020-12-01","o":3645,"h":3679,"l":3645,"c":3662},
{"d":"2020-12-02","o":3654,"h":3670,"l":3645,"c":3669},
{"d":"2020-12-03","o":3669,"h":3682,"l":3661,"c":3667},
{"d":"2020-12-04","o":3671,"h":3700,"l":3670,"c":3699},
{"d":"2020-12-07","o":3694,"h":3698,"l":3684,"c":3692},
{"d":"2020-12-08","o":3683,"h":3708,"l":3679,"c":3702},
{"d":"2020-12-09","o":3706,"h":3712,"l":3660,"c":3673},
{"d":"2020-12-10","o":3661,"h":3675,"l":3648,"c":3668},
{"d":"2020-12-11","o":3656,"h":3665,"l":3634,"c":3663},
{"d":"2020-12-14","o":3675,"h":3697,"l":3645,"c":3647},
{"d":"2020-12-15","o":3667,"h":3695,"l":3660,"c":3695},
{"d":"2020-12-16","o":3696,"h":3712,"l":3685,"c":3701},
{"d":"2020-12-17","o":3714,"h":3726,"l":3710,"c":3722},
{"d":"2020-12-18","o":3723,"h":3726,"l":3685,"c":3709},
{"d":"2020-12-21","o":3684,"h":3703,"l":3636,"c":3695},
{"d":"2020-12-22","o":3698,"h":3703,"l":3676,"c":3687},
{"d":"2020-12-23","o":3693,"h":3713,"l":3684,"c":3690},
{"d":"2020-12-24","o":3694,"h":3704,"l":3690,"c":3703},
{"d":"2020-12-28","o":3723,"h":3740,"l":3723,"c":3735},
{"d":"2020-12-29","o":3751,"h":3756,"l":3723,"c":3727},
{"d":"2020-12-30","o":3737,"h":3745,"l":3730,"c":3732},
{"d":"2020-12-31","o":3734,"h":3760,"l":3726,"c":3756},
{"d":"2021-01-04","o":3764,"h":3770,"l":3663,"c":3701},
{"d":"2021-01-05","o":3698,"h":3738,"l":3696,"c":3727},
{"d":"2021-01-06","o":3713,"h":3784,"l":3706,"c":3748},
{"d":"2021-01-07","o":3764,"h":3812,"l":3764,"c":3804},
{"d":"2021-01-08","o":3816,"h":3826,"l":3784,"c":3825},
{"d":"2021-01-11","o":3803,"h":3818,"l":3791,"c":3800},
{"d":"2021-01-12","o":3802,"h":3811,"l":3777,"c":3801},
{"d":"2021-01-13","o":3802,"h":3820,"l":3792,"c":3810},
{"d":"2021-01-14","o":3815,"h":3823,"l":3793,"c":3796},
{"d":"2021-01-15","o":3789,"h":3796,"l":3750,"c":3768},
{"d":"2021-01-19","o":3782,"h":3805,"l":3780,"c":3799},
{"d":"2021-01-20","o":3817,"h":3860,"l":3817,"c":3852},
{"d":"2021-01-21","o":3858,"h":3862,"l":3846,"c":3853},
{"d":"2021-01-22","o":3844,"h":3852,"l":3831,"c":3841},
{"d":"2021-01-25","o":3851,"h":3860,"l":3797,"c":3855},
{"d":"2021-01-26","o":3862,"h":3870,"l":3848,"c":3850},
{"d":"2021-01-27","o":3836,"h":3837,"l":3733,"c":3751},
{"d":"2021-01-28","o":3756,"h":3831,"l":3756,"c":3787},
{"d":"2021-01-29","o":3778,"h":3778,"l":3694,"c":3714},
{"d":"2021-02-01","o":3732,"h":3784,"l":3726,"c":3774},
{"d":"2021-02-02","o":3791,"h":3844,"l":3791,"c":3826},
{"d":"2021-02-03","o":3840,"h":3847,"l":3817,"c":3830},
{"d":"2021-02-04","o":3836,"h":3872,"l":3836,"c":3872},
{"d":"2021-02-05","o":3879,"h":3894,"l":3874,"c":3887},
{"d":"2021-02-08","o":3893,"h":3916,"l":3892,"c":3916},
{"d":"2021-02-09","o":3910,"h":3919,"l":3902,"c":3911},
{"d":"2021-02-10","o":3920,"h":3926,"l":3891,"c":3910},
{"d":"2021-02-11","o":3917,"h":3925,"l":3895,"c":3916},
{"d":"2021-02-12","o":3911,"h":3937,"l":3906,"c":3935},
{"d":"2021-02-16","o":3940,"h":3950,"l":3924,"c":3933},
{"d":"2021-02-17","o":3918,"h":3933,"l":3901,"c":3931},
{"d":"2021-02-18","o":3916,"h":3917,"l":3885,"c":3914},
{"d":"2021-02-19","o":3921,"h":3931,"l":3885,"c":3907},
{"d":"2021-02-22","o":3885,"h":3902,"l":3874,"c":3877},
{"d":"2021-02-23","o":3857,"h":3895,"l":3805,"c":3881},
{"d":"2021-02-24","o":3874,"h":3929,"l":3866,"c":3925},
{"d":"2021-02-25","o":3916,"h":3934,"l":3826,"c":3829},
{"d":"2021-02-26","o":3839,"h":3862,"l":3790,"c":3811},
{"d":"2021-03-01","o":3842,"h":3914,"l":3842,"c":3902},
{"d":"2021-03-02","o":3903,"h":3906,"l":3867,"c":3870},
{"d":"2021-03-03","o":3864,"h":3875,"l":3818,"c":3820},
{"d":"2021-03-04","o":3818,"h":3843,"l":3723,"c":3768},
{"d":"2021-03-05","o":3794,"h":3851,"l":3730,"c":3842},
{"d":"2021-03-08","o":3844,"h":3881,"l":3819,"c":3821},
{"d":"2021-03-09","o":3851,"h":3903,"l":3851,"c":3875},
{"d":"2021-03-10","o":3891,"h":3918,"l":3885,"c":3899},
{"d":"2021-03-11","o":3916,"h":3960,"l":3916,"c":3939},
{"d":"2021-03-12","o":3925,"h":3944,"l":3906,"c":3943},
{"d":"2021-03-15","o":3943,"h":3970,"l":3923,"c":3969},
{"d":"2021-03-16","o":3973,"h":3982,"l":3949,"c":3963},
{"d":"2021-03-17","o":3949,"h":3983,"l":3935,"c":3974},
{"d":"2021-03-18","o":3953,"h":3969,"l":3910,"c":3915},
{"d":"2021-03-19","o":3914,"h":3921,"l":3885,"c":3913},
{"d":"2021-03-22","o":3916,"h":3955,"l":3911,"c":3941},
{"d":"2021-03-23","o":3938,"h":3950,"l":3901,"c":3911},
{"d":"2021-03-24","o":3920,"h":3942,"l":3889,"c":3889},
{"d":"2021-03-25","o":3879,"h":3919,"l":3854,"c":3910},
{"d":"2021-03-26","o":3917,"h":3978,"l":3917,"c":3975},
{"d":"2021-03-29","o":3970,"h":3976,"l":3917,"c":3971},
{"d":"2021-03-30","o":3963,"h":3968,"l":3944,"c":3959},
{"d":"2021-03-31","o":3967,"h":3994,"l":3967,"c":3988}
],
"months":[
{"d":"2018-11-01","dir":"up"},{"d":"2018-12-03","dir":"up"},{"d":"2019-01-02","dir":"up"},{"d":"2019-02-01","dir":"up"},{"d":"2019-03-01","dir":"up"},{"d":"2019-04-01","dir":"up"},{"d":"2019-05-01","dir":"down"},{"d":"2019-06-03","dir":"down"},{"d":"2019-07-01","dir":"up"},{"d":"2019-08-01","dir":"down"},{"d":"2019-09-03","dir":"down"},{"d":"2019-10-01","dir":"down"},{"d":"2019-11-01","dir":"up"},{"d":"2019-12-02","dir":"down"},{"d":"2020-01-02","dir":"up"},{"d":"2020-02-03","dir":"up"},{"d":"2020-03-02","dir":"up"},{"d":"2020-04-01","dir":"down"},{"d":"2020-05-01","dir":"down"},{"d":"2020-06-01","dir":"up"},{"d":"2020-07-01","dir":"up"},{"d":"2020-08-03","dir":"up"},{"d":"2020-09-01","dir":"up"},{"d":"2020-10-01","dir":"up"},{"d":"2020-11-02","dir":"up"},{"d":"2020-12-01","dir":"up"},{"d":"2021-01-04","dir":"down"},{"d":"2021-02-01","dir":"up"},{"d":"2021-03-01","dir":"up"}
],
"weeks":[
{"d":"2018-11-05"},{"d":"2018-11-12"},{"d":"2018-11-19"},{"d":"2018-11-26"},{"d":"2018-12-10"},{"d":"2018-12-17"},{"d":"2018-12-24"},
{"d":"2019-01-07"},{"d":"2019-01-14"},{"d":"2019-01-22"},{"d":"2019-02-04"},{"d":"2019-02-11"},{"d":"2019-02-19"},{"d":"2019-03-04"},{"d":"2019-03-11"},{"d":"2019-03-18"},{"d":"2019-03-25"},{"d":"2019-04-08"},{"d":"2019-04-15"},{"d":"2019-04-22"},{"d":"2019-05-06"},{"d":"2019-05-13"},{"d":"2019-05-20"},{"d":"2019-05-28"},{"d":"2019-06-10"},{"d":"2019-06-17"},{"d":"2019-06-24"},{"d":"2019-07-08"},{"d":"2019-07-15"},{"d":"2019-07-22"},{"d":"2019-08-05"},{"d":"2019-08-12"},{"d":"2019-08-19"},{"d":"2019-08-26"},{"d":"2019-09-09"},{"d":"2019-09-16"},{"d":"2019-09-23"},{"d":"2019-10-07"},{"d":"2019-10-14"},{"d":"2019-10-21"},{"d":"2019-11-04"},{"d":"2019-11-11"},{"d":"2019-11-18"},{"d":"2019-11-25"},{"d":"2019-12-09"},{"d":"2019-12-16"},{"d":"2019-12-23"},
{"d":"2020-01-06"},{"d":"2020-01-13"},{"d":"2020-01-21"},{"d":"2020-01-27"},{"d":"2020-02-10"},{"d":"2020-02-18"},{"d":"2020-02-24"},{"d":"2020-03-09"},{"d":"2020-03-16"},{"d":"2020-03-23"},{"d":"2020-04-06"},{"d":"2020-04-13"},{"d":"2020-04-20"},{"d":"2020-05-04"},{"d":"2020-05-11"},{"d":"2020-05-18"},{"d":"2020-05-26"},{"d":"2020-06-08"},{"d":"2020-06-15"},{"d":"2020-06-22"},{"d":"2020-07-06"},{"d":"2020-07-13"},{"d":"2020-07-20"},{"d":"2020-07-27"},{"d":"2020-08-10"},{"d":"2020-08-17"},{"d":"2020-08-24"},{"d":"2020-09-08"},{"d":"2020-09-14"},{"d":"2020-09-21"},{"d":"2020-10-05"},{"d":"2020-10-12"},{"d":"2020-10-19"},{"d":"2020-10-26"},{"d":"2020-11-09"},{"d":"2020-11-16"},{"d":"2020-11-23"},{"d":"2020-12-07"},{"d":"2020-12-14"},{"d":"2020-12-21"},{"d":"2020-12-28"},
{"d":"2021-01-11"},{"d":"2021-01-19"},{"d":"2021-01-25"},{"d":"2021-02-08"},{"d":"2021-02-16"},{"d":"2021-02-22"},{"d":"2021-03-08"},{"d":"2021-03-15"},{"d":"2021-03-22"},{"d":"2021-03-29"}
]
},
"encoding":{
"x":{"field":"d","type":"ordinal","scale":{"type":"band","paddingInner":0,"paddingOuter":0},
"axis":{"orient":"bottom","title":null,"values":["2018-11-01","2018-12-03","2019-01-02","2019-02-01","2019-03-01","2019-04-01","2019-05-01","2019-06-03","2019-07-01","2019-08-01","2019-09-03","2019-10-01","2019-11-01","2019-12-02","2020-01-02","2020-02-03","2020-03-02","2020-04-01","2020-05-01","2020-06-01","2020-07-01","2020-08-03","2020-09-01","2020-10-01","2020-11-02","2020-12-01","2021-01-04","2021-02-01","2021-03-01"],
"labelExpr":"slice(datum.value,5,7)=='01' ? slice(datum.value,0,4) : ['Jan','Feb','Mar','Apr','May','Jun','Jul','Aug','Sep','Oct','Nov','Dec'][toNumber(slice(datum.value,5,7))-1]",
"labelFontWeight":{"condition":{"test":"slice(datum.value,5,7)=='01'","value":"bold"},"value":"normal"},
"labelFont":"DejaVu Sans","labelFontSize":9,"labelColor":"#000000","labelAngle":0,"labelPadding":3,"ticks":false,"domain":false,"grid":false,"labelOverlap":false}}
},
"layer":[
{"data":{"name":"weeks"},"mark":{"type":"rule","color":"#e2e2e2","strokeDash":[3,2],"strokeWidth":1},"encoding":{}},
{"data":{"name":"months"},"mark":{"type":"rule","strokeDash":[4,2],"strokeWidth":1},
"encoding":{"color":{"field":"dir","type":"nominal","scale":{"domain":["up","down"],"range":["#009a00","#ff0000"]},"legend":null}}},
{"data":{"name":"px"},"mark":{"type":"rule","strokeWidth":1},
"encoding":{
"y":{"field":"l","type":"quantitative","scale":{"type":"log","domain":[2178,4022],"nice":false,"zero":false},
"axis":{"orient":"right","title":null,"values":[2200,2250,2300,2350,2400,2450,2500,2550,2600,2650,2700,2750,2800,2850,2900,2950,3000,3050,3100,3150,3200,3250,3300,3350,3400,3450,3500,3550,3600,3650,3700,3750,3800,3850,3900,3950,4000],"format":"d","grid":true,"gridColor":"#e2e2e2","gridDash":[3,2],"gridWidth":1,"labelFont":"DejaVu Sans","labelFontSize":9,"labelColor":"#000000","tickSize":2,"tickColor":"#999999","labelPadding":2,"domain":false,"labelOverlap":false}},
"y2":{"field":"h"},
"color":{"condition":{"test":"datum.c>=datum.o","value":"#000000"},"value":"#d0103a"}}},
{"data":{"name":"px"},"mark":{"type":"bar","size":3,"strokeWidth":1},
"encoding":{
"y":{"field":"o","type":"quantitative"},
"y2":{"field":"c"},
"fill":{"condition":{"test":"datum.c>=datum.o","value":"#ffffff"},"value":"#d0103a"},
"stroke":{"condition":{"test":"datum.c>=datum.o","value":"#000000"},"value":"#d0103a"}}},
{"data":{"values":[{"t":"$SPX"}]},"mark":{"type":"text","align":"left","baseline":"alphabetic","dx":-1,"dy":-15,"font":"Liberation Sans","fontSize":13,"fontWeight":"bold","fill":"#000000"},
"encoding":{"x":{"datum":"2018-10-29","type":"ordinal"},"y":{"datum":4022,"type":"quantitative"},"text":{"field":"t"}}},
{"data":{"values":[{"t":"S&P 500 Large Cap Index"}]},"mark":{"type":"text","align":"left","baseline":"alphabetic","dx":36,"dy":-15,"font":"Liberation Sans","fontSize":10.5,"fill":"#000000"},
"encoding":{"x":{"datum":"2018-10-29","type":"ordinal"},"y":{"datum":4022,"type":"quantitative"},"text":{"field":"t"}}},
{"data":{"values":[{"t":"INDX"}]},"mark":{"type":"text","align":"left","baseline":"alphabetic","dx":164,"dy":-15,"font":"Liberation Sans","fontSize":9,"fill":"#000000"},
"encoding":{"x":{"datum":"2018-10-29","type":"ordinal"},"y":{"datum":4022,"type":"quantitative"},"text":{"field":"t"}}},
{"data":{"values":[{"t":"31-Mar-2021 3:28pm"}]},"mark":{"type":"text","align":"left","baseline":"alphabetic","dx":-2,"dy":-2,"font":"Liberation Sans","fontSize":10.5,"fill":"#000000"},
"encoding":{"x":{"datum":"2018-10-29","type":"ordinal"},"y":{"datum":4022,"type":"quantitative"},"text":{"field":"t"}}},
{"data":{"values":[{"t":"$SPX (Daily) 3988.09"}]},"mark":{"type":"text","align":"left","baseline":"alphabetic","dx":14,"dy":11,"font":"DejaVu Sans","fontSize":11,"fill":"#000000"},
"encoding":{"x":{"datum":"2018-10-29","type":"ordinal"},"y":{"datum":4022,"type":"quantitative"},"text":{"field":"t"}}},
{"data":{"values":[{"t":"Seasonality - The First Trading Day of Month"}]},"mark":{"type":"text","align":"left","baseline":"alphabetic","dx":3,"dy":35,"font":"Liberation Sans","fontSize":19.5,"fontWeight":"bold","fill":"#0000e0"},
"encoding":{"x":{"datum":"2018-10-29","type":"ordinal"},"y":{"datum":4022,"type":"quantitative"},"text":{"field":"t"}}},
{"data":{"values":[{"t":"Open"}]},"mark":{"type":"text","align":"right","baseline":"alphabetic","dx":-369,"dy":-2,"font":"Liberation Sans","fontSize":10.5,"fontWeight":"bold","fill":"#000000"},
"encoding":{"x":{"datum":"2021-03-31","type":"ordinal"},"y":{"datum":4022,"type":"quantitative"},"text":{"field":"t"}}},
{"data":{"values":[{"t":"3967.25"}]},"mark":{"type":"text","align":"right","baseline":"alphabetic","dx":-328,"dy":-2,"font":"Liberation Sans","fontSize":10.5,"fill":"#000000"},
"encoding":{"x":{"datum":"2021-03-31","type":"ordinal"},"y":{"datum":4022,"type":"quantitative"},"text":{"field":"t"}}},
{"data":{"values":[{"t":"High"}]},"mark":{"type":"text","align":"right","baseline":"alphabetic","dx":-298,"dy":-2,"font":"Liberation Sans","fontSize":10.5,"fontWeight":"bold","fill":"#000000"},
"encoding":{"x":{"datum":"2021-03-31","type":"ordinal"},"y":{"datum":4022,"type":"quantitative"},"text":{"field":"t"}}},
{"data":{"values":[{"t":"3994.41"}]},"mark":{"type":"text","align":"right","baseline":"alphabetic","dx":-257,"dy":-2,"font":"Liberation Sans","fontSize":10.5,"fill":"#000000"},
"encoding":{"x":{"datum":"2021-03-31","type":"ordinal"},"y":{"datum":4022,"type":"quantitative"},"text":{"field":"t"}}},
{"data":{"values":[{"t":"Low"}]},"mark":{"type":"text","align":"right","baseline":"alphabetic","dx":-229,"dy":-2,"font":"Liberation Sans","fontSize":10.5,"fontWeight":"bold","fill":"#000000"},
"encoding":{"x":{"datum":"2021-03-31","type":"ordinal"},"y":{"datum":4022,"type":"quantitative"},"text":{"field":"t"}}},
{"data":{"values":[{"t":"3966.98"}]},"mark":{"type":"text","align":"right","baseline":"alphabetic","dx":-188,"dy":-2,"font":"Liberation Sans","fontSize":10.5,"fill":"#000000"},
"encoding":{"x":{"datum":"2021-03-31","type":"ordinal"},"y":{"datum":4022,"type":"quantitative"},"text":{"field":"t"}}},
{"data":{"values":[{"t":"Last"}]},"mark":{"type":"text","align":"right","baseline":"alphabetic","dx":-159,"dy":-2,"font":"Liberation Sans","fontSize":10.5,"fontWeight":"bold","fill":"#000000"},
"encoding":{"x":{"datum":"2021-03-31","type":"ordinal"},"y":{"datum":4022,"type":"quantitative"},"text":{"field":"t"}}},
{"data":{"values":[{"t":"3988.09"}]},"mark":{"type":"text","align":"right","baseline":"alphabetic","dx":-118,"dy":-2,"font":"Liberation Sans","fontSize":10.5,"fill":"#000000"},
"encoding":{"x":{"datum":"2021-03-31","type":"ordinal"},"y":{"datum":4022,"type":"quantitative"},"text":{"field":"t"}}},
{"data":{"values":[{"t":"Chg"}]},"mark":{"type":"text","align":"right","baseline":"alphabetic","dx":-94,"dy":-2,"font":"Liberation Sans","fontSize":10.5,"fontWeight":"bold","fill":"#000000"},
"encoding":{"x":{"datum":"2021-03-31","type":"ordinal"},"y":{"datum":4022,"type":"quantitative"},"text":{"field":"t"}}},
{"data":{"values":[{"t":"+29.54 (+0.75%)"}]},"mark":{"type":"text","align":"right","baseline":"alphabetic","dx":-13,"dy":-2,"font":"Liberation Sans","fontSize":10.5,"fill":"#000000"},
"encoding":{"x":{"datum":"2021-03-31","type":"ordinal"},"y":{"datum":4022,"type":"quantitative"},"text":{"field":"t"}}},
{"data":{"values":[{"t":"▲"}]},"mark":{"type":"text","align":"center","baseline":"alphabetic","dx":1,"dy":-3,"font":"DejaVu Sans","fontSize":7,"fill":"#2e7d32"},
"encoding":{"x":{"datum":"2021-03-31","type":"ordinal"},"y":{"datum":4022,"type":"quantitative"},"text":{"field":"t"}}},
{"data":{"values":[{"t":"© StockCharts.com"}]},"mark":{"type":"text","align":"right","baseline":"alphabetic","dx":6,"dy":-16,"font":"Liberation Sans","fontSize":10.5,"fill":"#555555"},
"encoding":{"x":{"datum":"2021-03-31","type":"ordinal"},"y":{"datum":4022,"type":"quantitative"},"text":{"field":"t"}}}
]
}
